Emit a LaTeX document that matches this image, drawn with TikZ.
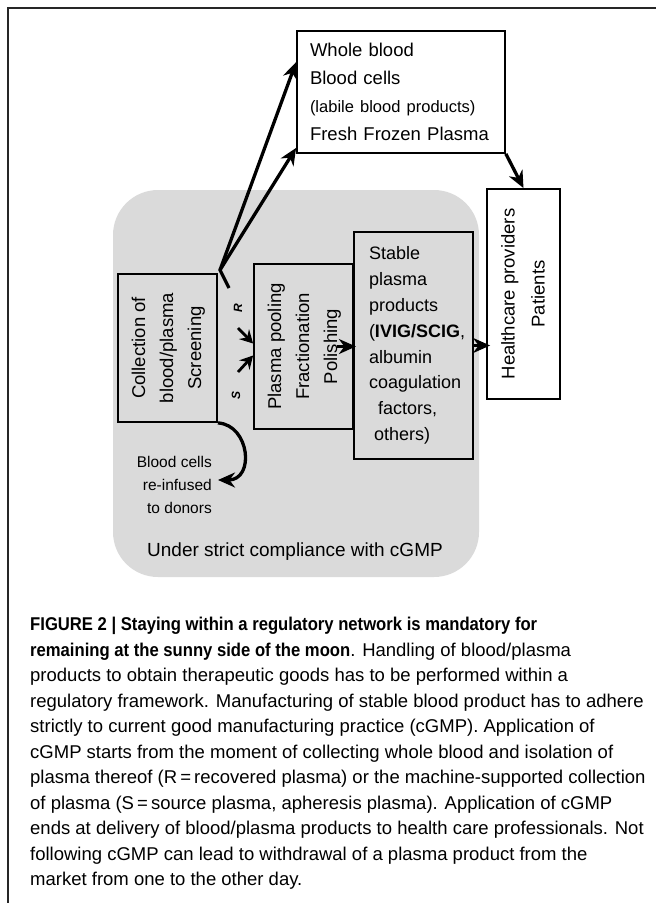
\documentclass[tikz,border=0pt]{standalone}
\usepackage{fontspec}
\setsansfont{Liberation Sans}
\newfontfamily\headfont[FakeStretch=0.9]{Liberation Sans}
\usetikzlibrary{arrows.meta}

\definecolor{panelgray}{RGB}{218,218,218}

% text turned by 90 degrees, lines centred
\newcommand{\vertlabel}[1]{\rotatebox{90}{\begin{tabular}{@{}c@{}}#1\end{tabular}}}

\begin{document}
\begin{tikzpicture}[
    x=1pt, y=-1pt,
    every node/.style={font=\sffamily},
    diag/.style={font=\sffamily\fontsize{18.5}{28}\selectfont},
    box/.style={draw, line width=1.8pt, inner sep=0pt},
    panel/.style={fill=panelgray, rounded corners=45pt, inner sep=0pt,
      minimum width=366, minimum height=387},
    tag/.style={font=\sffamily\bfseries\itshape\fontsize{12}{14}\selectfont, rotate=90},
    arrow/.style={line width=3.3pt, -{Stealth[length=17pt,width=15pt,inset=5.5pt]}},
    small arrow/.style={line width=2.8pt, -{Stealth[length=13pt,width=14pt,inset=4.5pt]}}
  ]
  \useasboundingbox (0,0) rectangle (656,903);

  % Frame of the figure
  \draw[line width=2pt, black!85] (8,903) -- (8,8) -- (656,8);

  % Shaded cGMP area
  \node[panel] (area) at (296,383.5) {};
  \node[diag, font=\sffamily\fontsize{19}{22}\selectfont] (cgmp) at (295,552)
    {Under strict compliance with cGMP};

  % Boxes
  \node[box, fill=white, diag, minimum width=208, minimum height=122,
    text width=182, inner xsep=13pt, align=left] (whole) at (401,92)
    {Whole blood\\Blood cells\\{\fontsize{16.5}{26}\selectfont(labile blood products)}\\Fresh Frozen Plasma};
  \node[box, fill=panelgray, diag, minimum width=99, minimum height=148] (coll) at (167.5,348)
    {\vertlabel{Collection of\\blood/plasma\\Screening}};
  \node[box, fill=panelgray, diag, minimum width=99, minimum height=165] (pool) at (303.5,346.5)
    {\vertlabel{Plasma pooling\\Fractionation\\Polishing}};
  \node[box, fill=panelgray, font=\sffamily\fontsize{18}{25.8}\selectfont,
    minimum width=119, minimum height=227, text width=89, align=left] (stable) at (413.5,345.5)
    {Stable\\plasma\\products\\(\textbf{IVIG/SCIG},\\albumin\\coagulation\\\hspace*{9pt}factors,\\\hspace*{5pt}others)};
  \node[box, fill=white, diag, font=\sffamily\fontsize{18.5}{30}\selectfont,
    minimum width=73, minimum height=210] (health) at (523.5,294)
    {\vertlabel{Healthcare providers\\Patients}};
  \node[font=\sffamily\fontsize{15.5}{23}\selectfont, align=right, inner sep=0pt,
    anchor=east] (reinf) at (212,485) {Blood cells\\re-infused\\to donors};

  % R and S routes
  \node[tag] (rlab) at (238,308) {R};
  \node[tag] (slab) at (236,395) {S};
  \coordinate (rtail) at (229,288);
  \coordinate (kink) at (220,270);
  \coordinate (rin) at (238,328);
  \coordinate (sin) at (238,372);

  % Arrows
  \draw[arrow] (rtail) -- (kink) -- ([yshift=-32pt]whole.north west);
  \draw[arrow] (kink) -- ([yshift=6pt]whole.south west);
  \draw[small arrow] (rin) -- ([yshift=3pt]pool.west);
  \draw[small arrow] (sin) -- ([yshift=-9pt]pool.west);
  \draw[arrow] ([xshift=-17pt]pool.east) -- ([xshift=2pt]pool.east);
  \draw[arrow] (stable.east) -- ([xshift=4pt]stable.east -| health.west);
  \draw[arrow] (whole.south east) -- (health.north);
  \draw[arrow] (coll.south east) .. controls (250,425) and (255,480) .. ([shift={(6pt,5pt)}]reinf.east);

  % Caption
  \node[anchor=north west, align=left, inner sep=0pt,
    font=\sffamily\fontsize{18.5}{25.5}\selectfont] (caption) at (30,617)
    {{\headfont\bfseries FIGURE 2 | Staying within a regulatory network is mandatory for}\\
     {\headfont\bfseries remaining at the sunny side of the moon}. Handling of blood/plasma\\
     products to obtain therapeutic goods has to be performed within a\\
     regulatory framework. Manufacturing of stable blood product has to adhere\\
     strictly to current good manufacturing practice (cGMP). Application of\\
     cGMP starts from the moment of collecting whole blood and isolation of\\
     plasma thereof (R\,=\,recovered plasma) or the machine-supported collection\\
     of plasma (S\,=\,source plasma, apheresis plasma). Application of cGMP\\
     ends at delivery of blood/plasma products to health care professionals. Not\\
     following cGMP can lead to withdrawal of a plasma product from the\\
     market from one to the other day.};
\end{tikzpicture}
\end{document}
